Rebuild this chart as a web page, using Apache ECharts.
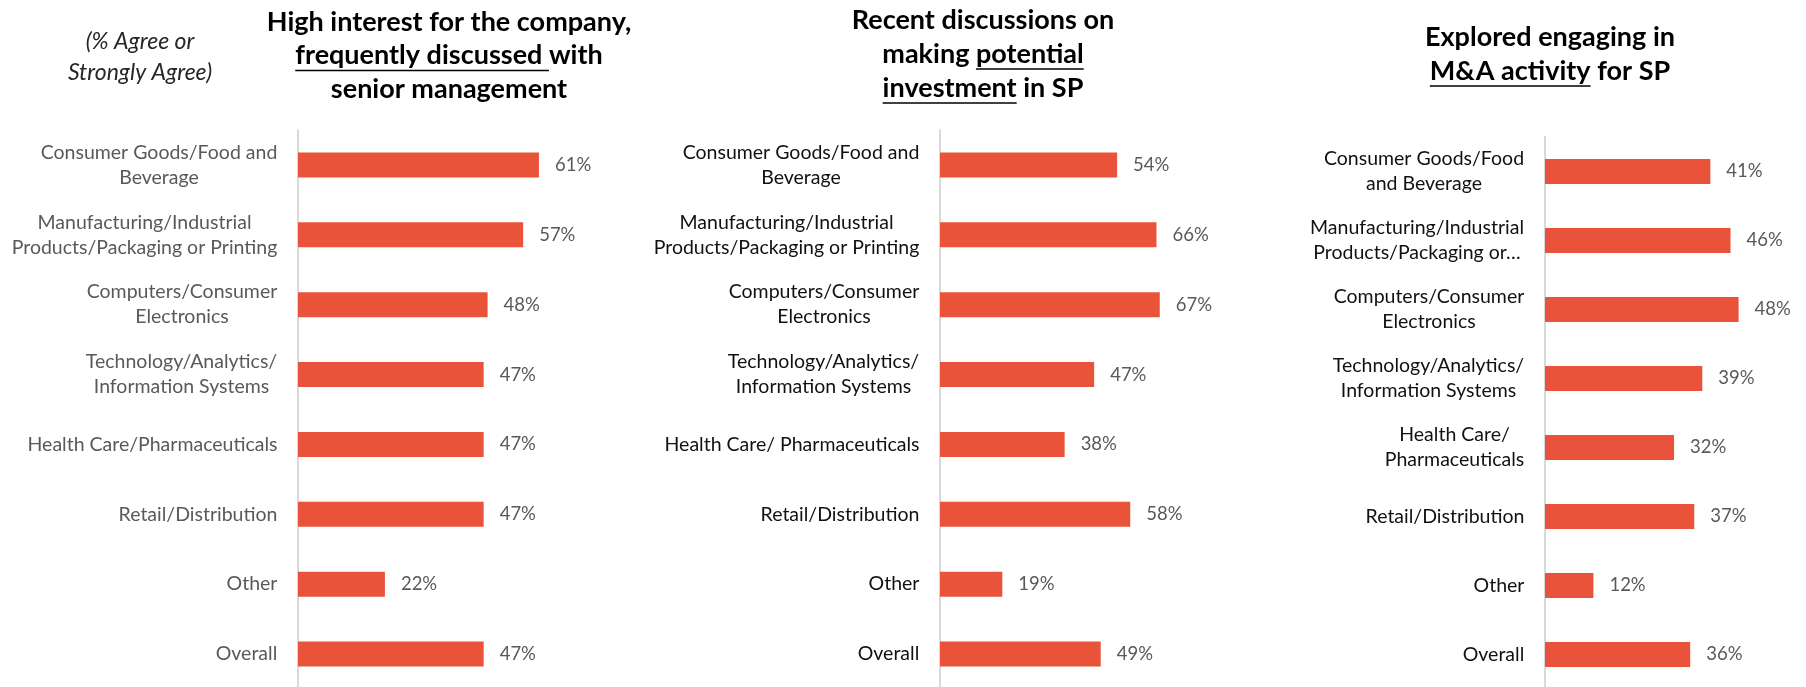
<!DOCTYPE html>
<html>
<head>
<meta charset="utf-8">
<script src="https://cdn.jsdelivr.net/npm/echarts@6/dist/echarts.min.js"></script>
<style>
  html, body { margin: 0; padding: 0; background: #ffffff; }
  #chart { width: 1806px; height: 687px; }
</style>
</head>
<body>
<div id="chart"></div>
<script>
// Industry categories (top to bottom) for each of the three panels
const categoriesInterest = [
  'Consumer Goods/Food and\nBeverage',
  'Manufacturing/Industrial\nProducts/Packaging or Printing',
  'Computers/Consumer\nElectronics',
  'Technology/Analytics/\nInformation Systems',
  'Health Care/Pharmaceuticals',
  'Retail/Distribution',
  'Other',
  'Overall'
];
const categoriesInvestment = [
  'Consumer Goods/Food and\nBeverage',
  'Manufacturing/Industrial\nProducts/Packaging or Printing',
  'Computers/Consumer\nElectronics',
  'Technology/Analytics/\nInformation Systems',
  'Health Care/ Pharmaceuticals',
  'Retail/Distribution',
  'Other',
  'Overall'
];
const categoriesMA = [
  'Consumer Goods/Food\nand Beverage',
  'Manufacturing/Industrial\nProducts/Packaging or\u2026',
  'Computers/Consumer\nElectronics',
  'Technology/Analytics/\nInformation Systems',
  'Health Care/\nPharmaceuticals',
  'Retail/Distribution',
  'Other',
  'Overall'
];

// % Agree or Strongly Agree
const valuesInterest = [61, 57, 48, 47, 47, 47, 22, 47];
const valuesInvestment = [54, 66, 67, 47, 38, 58, 19, 49];
const valuesMA = [41, 46, 48, 39, 32, 37, 12, 36];

// Panel headings: each line is a list of [text, underlined]
const headingInterest = [
  [['High interest for the company,', false]],
  [['frequently discussed ', true], ['with', false]],
  [['senior management', false]]
];
const headingInvestment = [
  [['Recent discussions on', false]],
  [['making ', false], ['potential', true]],
  [['investment', true], [' in SP', false]]
];
const headingMA = [
  [['Explored engaging in', false]],
  [['M&A activity', true], [' for SP', false]]
];
const noteLines = ['(% Agree or', 'Strongly Agree)'];

const FONT = 'Lato';
const BAR_COLOR = '#E8533A';
const VALUE_COLOR = '#595959';
const LABEL_SIZE = 19.5;
const HEADING_SIZE = 27;

const measureCtx = document.createElement('canvas').getContext('2d');
function textWidth(text, font) {
  measureCtx.font = font;
  return measureCtx.measureText(text).width;
}

// Rich styles so that the lines of a wrapped label are centred on one another
function labelRich(cats, color) {
  const font = `normal normal ${LABEL_SIZE}px ${FONT}`;
  const rich = {};
  cats.forEach((c, i) => {
    const w = Math.max(...c.split('\n').map(l => textWidth(l, font)));
    rich['r' + i] = {
      width: Math.ceil(w) + 1,
      align: 'center',
      lineHeight: 25,
      fontSize: LABEL_SIZE,
      fontFamily: FONT,
      color: color
    };
  });
  return rich;
}

const panels = [
  { cats: categoriesInterest, vals: valuesInterest, labelColor: '#595959',
    grid: { left: 298, top: 130, width: 395, height: 559 }, max: 100 },
  { cats: categoriesInvestment, vals: valuesInvestment, labelColor: '#111111',
    grid: { left: 940, top: 130, width: 328, height: 559 }, max: 100 },
  { cats: categoriesMA, vals: valuesMA, labelColor: '#111111',
    grid: { left: 1545, top: 137, width: 242, height: 552 }, max: 60 }
];

const grids = [], xAxes = [], yAxes = [], series = [];
panels.forEach((p, k) => {
  grids.push(Object.assign({ containLabel: false, outerBoundsMode: 'none' }, p.grid));
  xAxes.push({
    type: 'value', gridIndex: k, min: 0, max: p.max, show: false,
    splitLine: { show: false }
  });
  yAxes.push({
    type: 'category', gridIndex: k, data: p.cats, inverse: true,
    axisLine: { show: true, lineStyle: { color: '#D9D9D9', width: 2 } },
    axisTick: { show: false },
    splitLine: { show: false },
    axisLabel: {
      margin: 20,
      interval: 0,
      formatter: (v, i) => v.split('\n').map(l => `{r${i}|${l}}`).join('\n'),
      rich: labelRich(p.cats, p.labelColor)
    }
  });
  series.push({
    type: 'bar', xAxisIndex: k, yAxisIndex: k, data: p.vals,
    barWidth: 25,
    itemStyle: { color: BAR_COLOR },
    silent: true,
    label: {
      show: true, position: 'right', distance: 16,
      formatter: '{c}%', color: VALUE_COLOR,
      fontFamily: FONT, fontSize: 18.5
    }
  });
});

// Headings with underlined phrases
const graphics = [];
function addHeading(lines, cx, firstY, lineGap) {
  const font = `normal bold ${HEADING_SIZE}px ${FONT}`;
  lines.forEach((segs, li) => {
    const y = firstY + li * lineGap;
    const full = segs.map(s => s[0]).join('');
    const total = textWidth(full, font);
    graphics.push({
      type: 'text', silent: true,
      style: { text: full, x: cx, y: y, align: 'center', verticalAlign: 'middle',
               font: font, fill: '#000000' }
    });
    let x = cx - total / 2;
    segs.forEach(([t, u]) => {
      const w = textWidth(t, font);
      if (u) {
        graphics.push({
          type: 'line', silent: true,
          shape: { x1: x, y1: y + 15, x2: x + w, y2: y + 15 },
          style: { stroke: '#000000', lineWidth: 1.5 }
        });
      }
      x += w;
    });
  });
}
addHeading(headingInterest, 449, 22, 33.5);
addHeading(headingInvestment, 983, 20, 34);
addHeading(headingMA, 1550, 37, 34);

noteLines.forEach((t, i) => {
  graphics.push({
    type: 'text', silent: true,
    style: { text: t, x: 140, y: 42 + i * 31, align: 'center', verticalAlign: 'middle',
             font: `italic normal 23px ${FONT}`, fill: '#262626' }
  });
});

const chart = echarts.init(document.getElementById('chart'), null, { renderer: 'canvas' });
chart.setOption({
  animation: false,
  backgroundColor: '#ffffff',
  grid: grids,
  xAxis: xAxes,
  yAxis: yAxes,
  series: series,
  graphic: graphics
});
</script>
</body>
</html>
